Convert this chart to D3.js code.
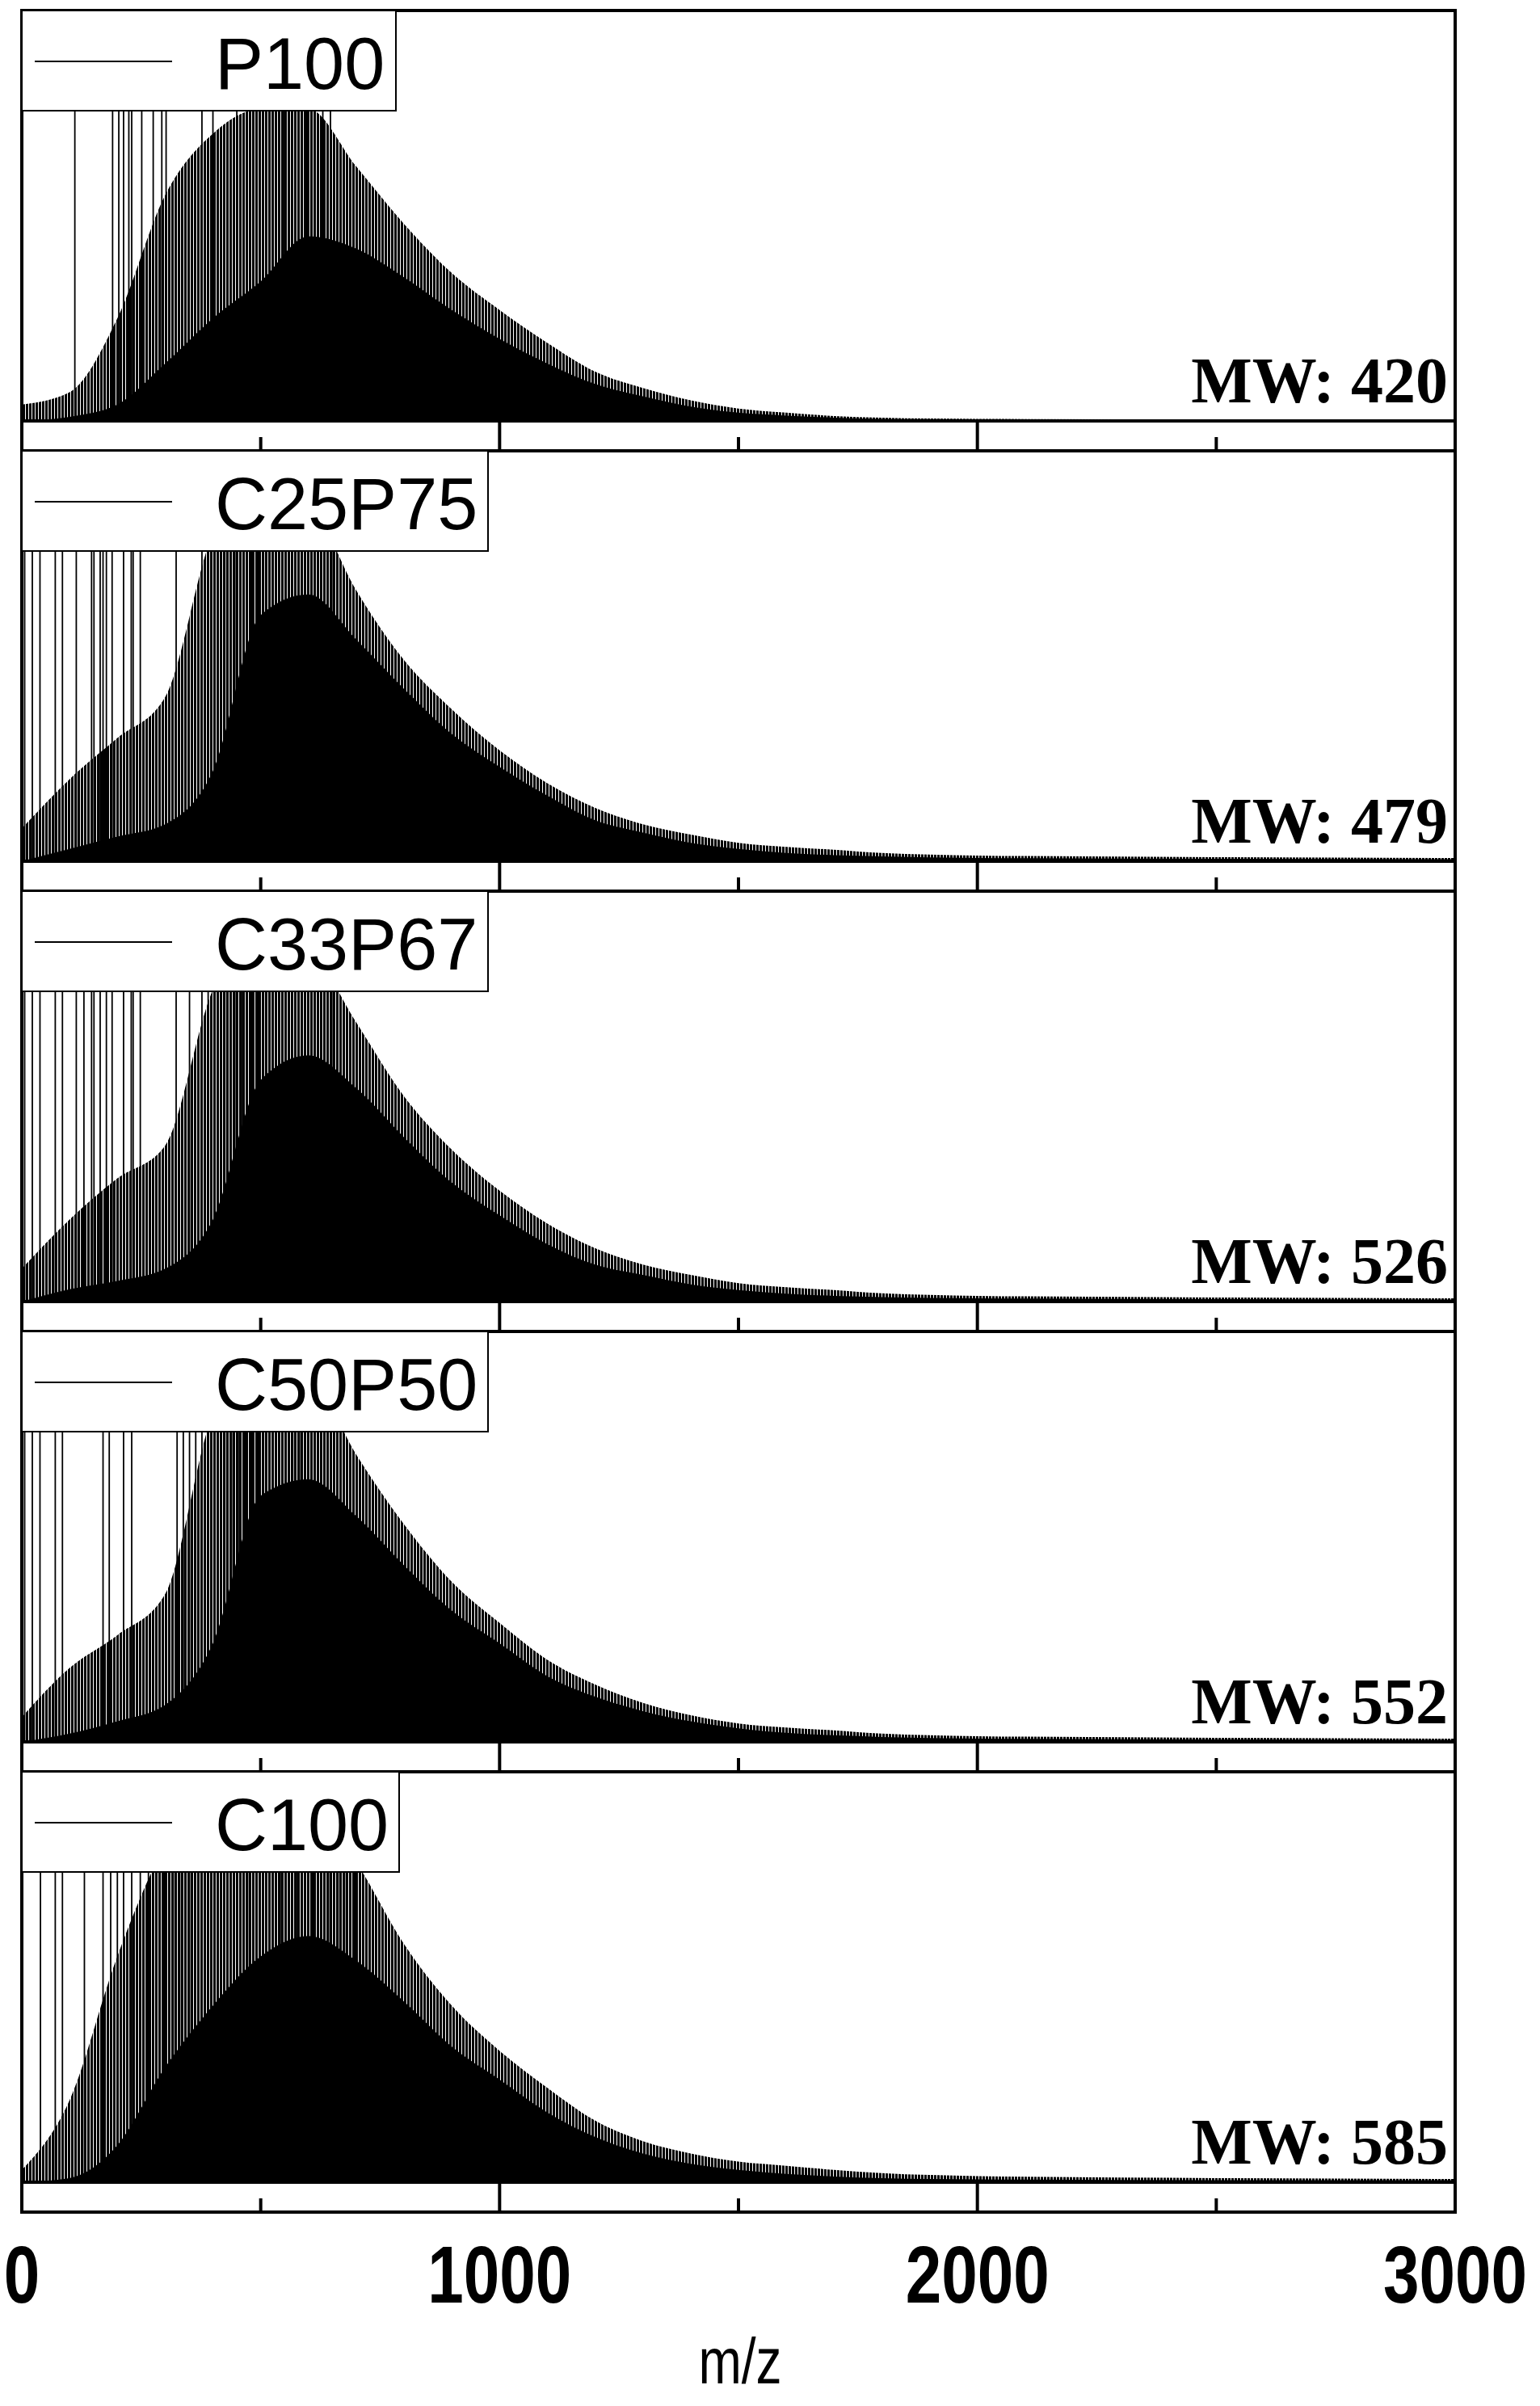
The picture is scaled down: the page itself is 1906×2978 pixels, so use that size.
<!DOCTYPE html>
<html>
<head>
<meta charset="utf-8">
<script src="https://cdn.jsdelivr.net/npm/d3@7"></script>
<style>
  body { margin: 0; background: #fff; }
</style>
</head>
<body>
<svg id="chart" width="1906" height="2978"></svg>
<script>
// samples, MW labels
var samples = ['P100', 'C25P75', 'C33P67', 'C50P50', 'C100']
var mwLabels = ['MW: 420', 'MW: 479', 'MW: 526', 'MW: 552', 'MW: 585']

// m/z grid for the envelopes
var mzGrid = [0, 100, 200, 300, 400, 500, 600, 700, 800, 900, 1000, 1100, 1200, 1300, 1400, 1500, 1600, 1700, 1800, 2000, 2500, 3000]

// height of the solid (dense) part of each spectrum, fraction of full scale
var solidP100   = [0, .01, .04, .14, .25, .34, .45, .42, .35, .27, .20, .14, .09, .06, .035, .02, .013, .008, .005, .004, .003, .003]
var solidC25P75 = [0, .03, .06, .09, .22, .60, .65, .54, .42, .31, .23, .16, .10, .07, .045, .03, .02, .015, .012, .008, .006, .005]
var solidC33P67 = [0, .03, .05, .08, .20, .54, .60, .52, .40, .29, .21, .14, .09, .065, .042, .028, .019, .014, .011, .008, .006, .005]
var solidC50P50 = [0, .02, .05, .09, .24, .60, .64, .55, .43, .32, .24, .16, .11, .075, .05, .033, .022, .016, .012, .008, .006, .005]
var solidC100   = [0, .01, .09, .28, .43, .55, .60, .54, .44, .33, .25, .17, .11, .07, .045, .03, .02, .014, .01, .007, .005, .005]

// tops of the hairline peaks, fraction of full scale
var spikeP100   = [.04, .07, .25, .55, .70, .76, .76, .62, .48, .36, .27, .19, .12, .08, .05, .03, .02, .012, .008, .005, .004, .004]
var spikeC25P75 = [.08, .20, .30, .40, .80, .94, .88, .66, .49, .37, .27, .19, .13, .09, .065, .045, .035, .028, .02, .014, .01, .008]
var spikeC33P67 = [.08, .20, .30, .38, .76, .90, .86, .68, .50, .37, .27, .19, .13, .09, .065, .045, .035, .028, .02, .014, .01, .008]
var spikeC50P50 = [.06, .18, .26, .36, .80, .94, .90, .70, .53, .39, .29, .20, .14, .095, .065, .045, .035, .028, .02, .014, .01, .008]
var spikeC100   = [.03, .20, .55, .82, .96, 1.0, .94, .78, .58, .43, .32, .23, .15, .10, .07, .05, .04, .03, .022, .015, .01, .008]

// individual peaks that run off the top of each panel (m/z)
var tallP100   = [111, 190, 203, 213, 224, 230, 251, 275, 293, 302, 377, 400, 450, 498, 524, 548, 573, 596, 607, 630, 646]
var tallC25P75 = [6, 22, 38, 70, 85, 114, 146, 151, 164, 170, 177, 189, 213, 229, 233, 248, 323, 377, 403, 429, 446, 481, 494, 506, 524, 649]
var tallC33P67 = [6, 22, 38, 70, 85, 114, 130, 146, 151, 164, 177, 189, 213, 229, 233, 248, 323, 351, 377, 390, 403, 416, 429, 446, 460, 481, 494, 506, 524, 649]
var tallC50P50 = [6, 22, 38, 70, 85, 170, 183, 213, 230, 325, 338, 351, 364, 377, 390, 403, 416, 429, 442, 455, 468, 481, 494, 506, 519, 532, 545, 558, 571, 584]
var tallC100   = [39, 70, 85, 131, 170, 186, 200, 213, 230, 248, 265, 282, 299, 317, 334, 351, 377, 403, 424, 450, 476, 498, 519, 541, 558, 575, 593, 610, 627, 645, 662, 679, 697]

var solids = [solidP100, solidC25P75, solidC33P67, solidC50P50, solidC100]
var spikes = [spikeP100, spikeC25P75, spikeC33P67, spikeC50P50, spikeC100]
var talls = [tallP100, tallC25P75, tallC33P67, tallC50P50, tallC100]
var legendWidths = [463, 577, 577, 577, 467]

var xTicks = [0, 1000, 2000, 3000]
var xMinor = [500, 1500, 2500]

var svg = d3.select('#chart')

var left = 27, right = 1801, top0 = 13, panelH = 545, band = 37

var x = d3.scaleLinear().domain([0, 3000]).range([left, right])

var defs = svg.append('defs')
var pat = defs.append('pattern')
    .attr('id', 'hair')
    .attr('patternUnits', 'userSpaceOnUse')
    .attr('width', 4).attr('height', 10)
pat.append('rect').attr('x', 0).attr('y', 0).attr('width', 3).attr('height', 10).attr('fill', '#000')

samples.forEach(function(name, i) {
    var pTop = top0 + i * panelH
    var pBot = pTop + panelH
    var base = pBot - band
    var y = d3.scaleLinear().domain([0, 1]).range([base, pTop])

    defs.append('clipPath').attr('id', 'clip' + i)
        .append('rect').attr('x', left).attr('y', pTop).attr('width', right - left).attr('height', base - pTop + 3)

    var g = svg.append('g').attr('clip-path', 'url(#clip' + i + ')')

    var pts = mzGrid.map(function(m, k) { return {mz: m, solid: solids[i][k], spike: spikes[i][k]} })

    var spikeArea = d3.area().curve(d3.curveMonotoneX)
        .x(function(d) { return x(d.mz) }).y0(base).y1(function(d) { return y(d.spike) })
    var solidArea = d3.area().curve(d3.curveMonotoneX)
        .x(function(d) { return x(d.mz) }).y0(base).y1(function(d) { return y(d.solid) })

    g.append('path').attr('d', spikeArea(pts)).attr('fill', 'url(#hair)')
    g.append('path').attr('d', solidArea(pts)).attr('fill', '#000')

    g.selectAll('line.tall').data(talls[i]).enter().append('line')
        .attr('x1', function(d) { return x(d) }).attr('x2', function(d) { return x(d) })
        .attr('y1', base).attr('y2', y(1.1))
        .attr('stroke', '#000').attr('stroke-width', 1.8)

    // zero line / noise floor
    svg.append('line').attr('x1', left).attr('x2', right).attr('y1', base).attr('y2', base)
        .attr('stroke', '#000').attr('stroke-width', 4)

    // ticks
    svg.selectAll(null).data(xTicks.slice(1, 3)).enter().append('line')
        .attr('x1', function(d) { return x(d) }).attr('x2', function(d) { return x(d) })
        .attr('y1', base).attr('y2', pBot)
        .attr('stroke', '#000').attr('stroke-width', 4)
    svg.selectAll(null).data(xMinor).enter().append('line')
        .attr('x1', function(d) { return x(d) }).attr('x2', function(d) { return x(d) })
        .attr('y1', pBot - 17).attr('y2', pBot)
        .attr('stroke', '#000').attr('stroke-width', 4)

    // frame
    svg.append('rect').attr('x', left).attr('y', pTop).attr('width', right - left).attr('height', panelH)
        .attr('fill', 'none').attr('stroke', '#000').attr('stroke-width', 4)

    // legend
    var lg = svg.append('g')
    lg.append('rect').attr('x', left).attr('y', pTop).attr('width', legendWidths[i]).attr('height', 124)
        .attr('fill', '#fff').attr('stroke', '#000').attr('stroke-width', 2)
    lg.append('line').attr('x1', 43).attr('x2', 213).attr('y1', pTop + 63).attr('y2', pTop + 63)
        .attr('stroke', '#000').attr('stroke-width', 2)
    lg.append('text').attr('x', 266).attr('y', pTop + 97).text(name)
        .attr('font-family', 'Liberation Sans, Arial, sans-serif').attr('font-size', 90)

    svg.append('text').attr('x', right - 9).attr('y', base - 23).text(mwLabels[i])
        .attr('text-anchor', 'end')
        .attr('font-family', 'Liberation Serif, Times New Roman, serif').attr('font-weight', 'bold').attr('font-size', 80)
})

svg.selectAll('text.tick').data(xTicks).enter().append('text')
    .attr('transform', function(d) { return 'translate(' + x(d) + ',2850) scale(0.8,1)' })
    .attr('text-anchor', 'middle')
    .attr('font-family', 'Liberation Sans, Arial, sans-serif').attr('font-weight', 'bold').attr('font-size', 100)
    .text(function(d) { return d })

svg.append('text').attr('transform', 'translate(916,2950) scale(0.8,1)')
    .attr('text-anchor', 'middle')
    .attr('font-family', 'Liberation Sans, Arial, sans-serif').attr('font-size', 80)
    .text('m/z')
</script>
</body>
</html>
